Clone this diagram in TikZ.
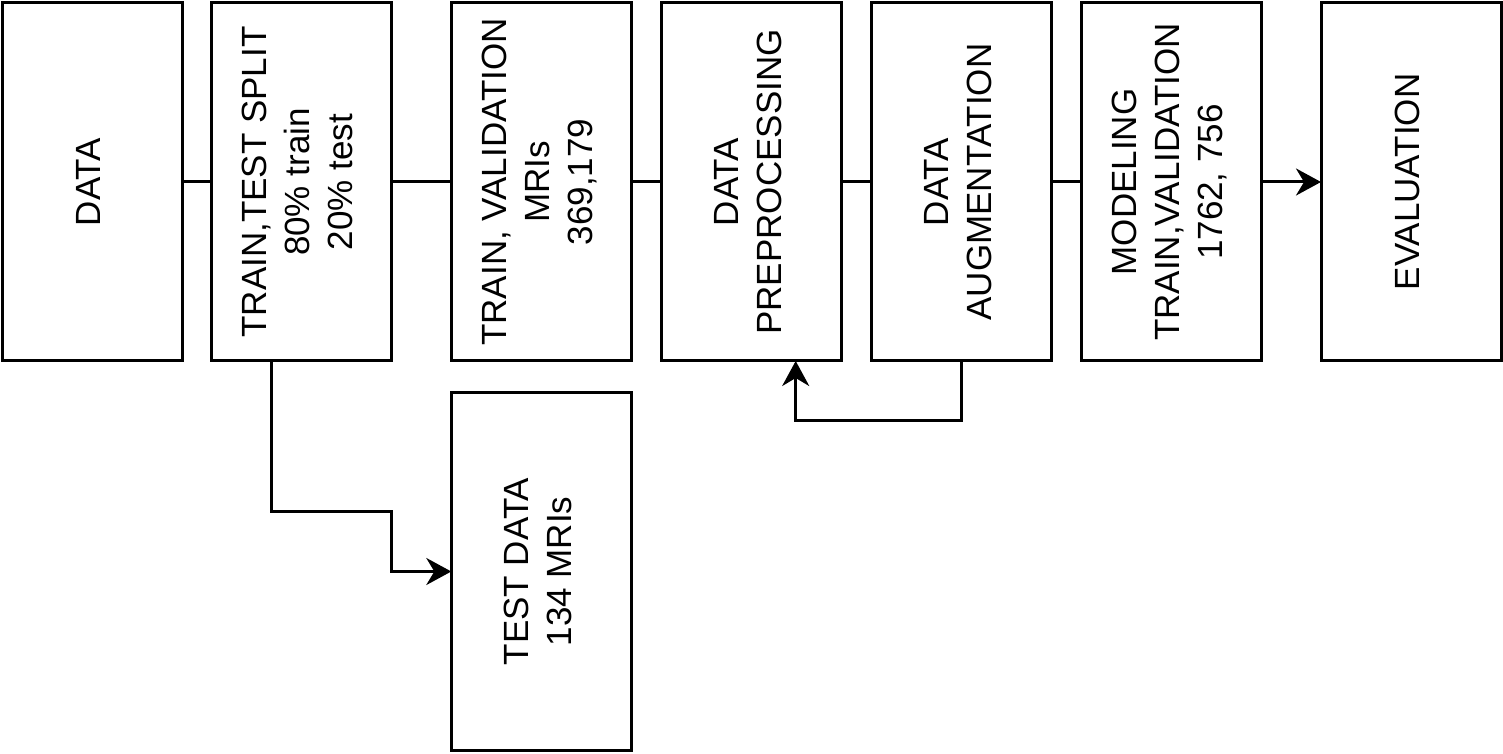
\documentclass[tikz,border=0pt]{standalone}
\usepackage{fontspec}
\setmainfont{Liberation Sans}
\usepackage{graphicx}
\usetikzlibrary{arrows.meta}
\tikzset{
    block/.style={draw,line width=3pt,minimum width=180pt,minimum height=358pt,inner sep=0pt,outer sep=0pt,font=\fontsize{35}{43}\selectfont},
    wire/.style={line width=3pt},
    flow/.style={line width=3pt,-{Stealth[length=25pt,width=27pt,inset=8pt]}}
}
\newcommand{\vtext}[1]{\rotatebox{90}{\begin{tabular}{@{}c@{}}#1\end{tabular}}}

\begin{document}
\begin{tikzpicture}[x=1pt,y=1pt]
    \useasboundingbox (0,0) rectangle (1503,753);
    \node[block] (data) at (92,571) {\vtext{DATA}};
    \node[block] (split) at (301.3,571) {\vtext{TRAIN,TEST SPLIT\\80\% train\\20\% test}};
    \node[block] (trainval) at (541.3,571) {\vtext{TRAIN, VALIDATION\\MRIs\\369,179}};
    \node[block] (preproc) at (751.3,571) {\vtext{DATA\\PREPROCESSING}};
    \node[block] (augment) at (961.3,571) {\vtext{DATA\\AUGMENTATION}};
    \node[block] (model) at (1171.3,571) {\vtext{MODELING\\TRAIN,VALIDATION\\1762, 756}};
    \node[block] (eval) at (1411,571) {\vtext{EVALUATION}};
    \node[block] (test) at (541.3,181.5) {\vtext{TEST DATA\\134 MRIs}};
    \coordinate (splitbend) at (391.7,241.3);
    \coordinate (loopbend) at (795.7,333);
    \draw[wire] (data) -- (split);
    \draw[wire] (split) -- (trainval);
    \draw[wire] (trainval) -- (preproc);
    \draw[wire] (preproc) -- (augment);
    \draw[wire] (augment) -- (model);
    \draw[flow] (model) -- (eval);
    \draw[flow] ([xshift=-30pt]split.south) |- (splitbend) |- (test.west);
    \draw[flow] (augment.south) |- (loopbend) -- ([xshift=44.4pt]preproc.south);
\end{tikzpicture}
\end{document}
